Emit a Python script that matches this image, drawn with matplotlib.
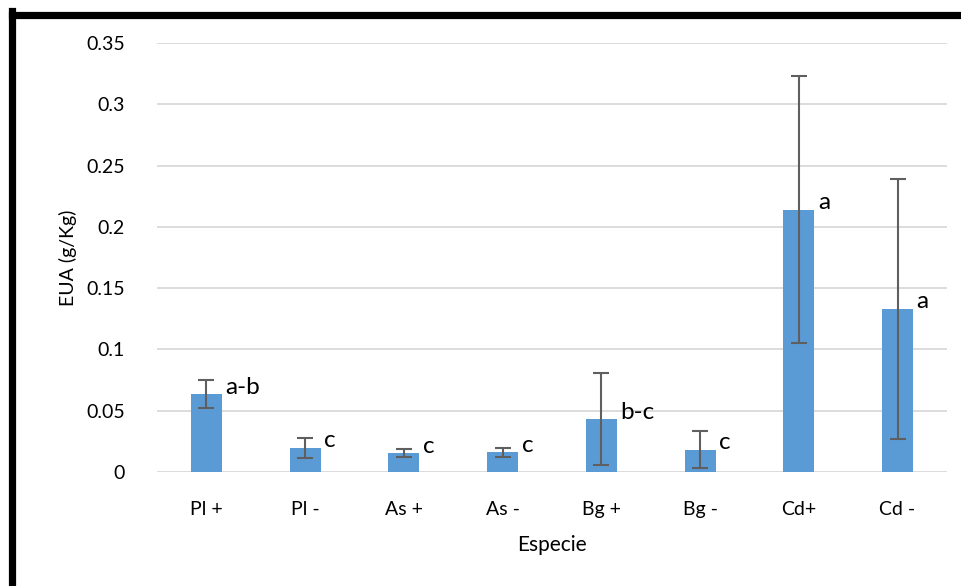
import matplotlib
matplotlib.use("Agg")
import matplotlib.pyplot as plt
from matplotlib.lines import Line2D
import numpy as np

categories = ["Pl +", "Pl -", "As +", "As -", "Bg +", "Bg -", "Cd+", "Cd -"]
means = [0.0636, 0.0196, 0.0155, 0.0160, 0.0432, 0.0183, 0.2140, 0.1330]
errors = [0.0115, 0.0082, 0.0033, 0.0038, 0.0375, 0.0152, 0.1090, 0.1060]
letters = ["a-b", "c", "c", "c", "b-c", "c", "a", "a"]
yticks = [0, 0.05, 0.1, 0.15, 0.2, 0.25, 0.3, 0.35]
ytick_labels = ["0", "0.05", "0.1", "0.15", "0.2", "0.25", "0.3", "0.35"]

plt.rcParams['font.family'] = ['Lato', 'DejaVu Sans']

fig = plt.figure(figsize=(9.62, 5.86), dpi=100)
ax = fig.add_axes([157/962, 1-472/586, 790/962, 429/586])

x = np.arange(len(categories))
ax.bar(x, means, width=0.314, color="#5B9BD5", zorder=2)
ax.errorbar(x, means, yerr=errors, fmt="none", ecolor="#5f5f5f", elinewidth=1.5,
            capsize=6, capthick=1.5, zorder=3)

for xi, m, lab in zip(x, means, letters):
    ax.annotate(lab, (xi, m), xytext=(19, 7), textcoords="offset pixels",
                ha="left", va="center", fontsize=17.5, color="black", zorder=4)

ax.set_xlim(-0.5, len(categories) - 0.5)
ax.set_ylim(0, 0.35)
ax.set_yticks(yticks)
ax.set_yticklabels(ytick_labels)
ax.set_xticks(x)
ax.set_xticklabels(categories)
ax.tick_params(axis="both", length=0, labelsize=14)
ax.tick_params(axis="y", pad=23)
ax.tick_params(axis="x", pad=21)
ax.grid(axis="y", color="#D9D9D9", linewidth=1.3, zorder=0)
for s in ax.spines.values():
    s.set_visible(False)
ax.set_axisbelow(True)

ax.set_ylabel("EUA (g/Kg)", fontsize=14, labelpad=7)
ax.set_xlabel("Especie", fontsize=15, labelpad=12)

# black frame (left and top edges)
fig.add_artist(Line2D([12/962, 12/962], [0, 1-11/586], color="black", linewidth=5.2,
                      transform=fig.transFigure, solid_capstyle="projecting"))
fig.add_artist(Line2D([12/962, 1.0], [1-15/586, 1-15/586], color="black", linewidth=5.2,
                      transform=fig.transFigure, solid_capstyle="projecting"))

fig.savefig("out.png", dpi=100, facecolor="white")
